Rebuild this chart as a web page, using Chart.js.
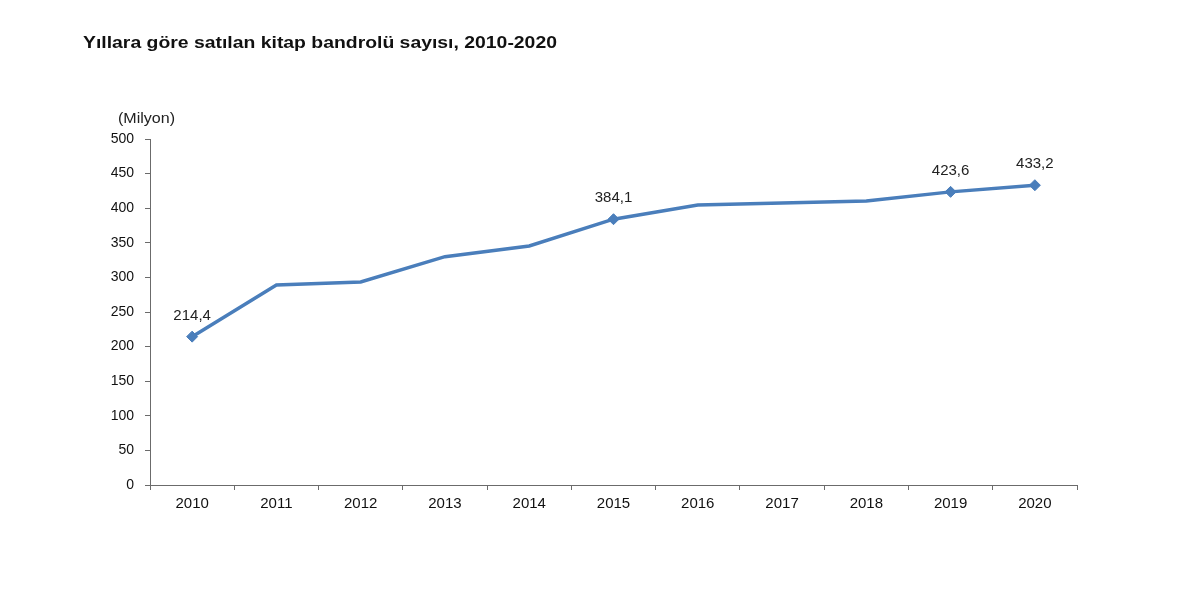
<!DOCTYPE html>
<html>
<head>
<meta charset="utf-8">
<script src="https://cdn.jsdelivr.net/npm/chart.js@4/dist/chart.umd.min.js"></script>
<style>
  body { margin: 0; background: #fff; }
  #wrap { position: relative; width: 1200px; height: 596px; }
  #title { position: absolute; left: 83px; top: 33px; font: bold 17px "Liberation Sans", Arial, sans-serif; color: #111; white-space: nowrap; transform: scaleX(1.14); transform-origin: left center; }
  #unit { position: absolute; left: 118px; top: 109px; font: 15px "Liberation Sans", Arial, sans-serif; color: #222; transform: scaleX(1.07); transform-origin: left center; }
  canvas { position: absolute; left: 0; top: 0; }
</style>
</head>
<body>
<div id="wrap">
  <canvas id="chart-canvas" width="1200" height="596"></canvas>
  <div id="title">Yıllara göre satılan kitap bandrolü sayısı, 2010-2020</div>
  <div id="unit">(Milyon)</div>
</div>
<script>
// values (million)
const years = ["2010", "2011", "2012", "2013", "2014", "2015", "2016", "2017", "2018", "2019", "2020"];
const bandrol = [214.4, 289, 293.5, 330, 345.5, 384.1, 404.5, 407.5, 410.5, 423.6, 433.2];
const labelled = [true, false, false, false, false, true, false, false, false, true, true];
const yTicks = [0, 50, 100, 150, 200, 250, 300, 350, 400, 450, 500];

const lineBlue = "#4a7ebb";
const axisGrey = "#6b6b6b";

// draws "214,4" style labels above the marked points
const pointLabels = {
  id: "pointLabels",
  afterDatasetsDraw(chart) {
    const ctx = chart.ctx;
    const meta = chart.getDatasetMeta(0);
    ctx.save();
    ctx.font = '15px "Liberation Sans", Arial, sans-serif';
    ctx.fillStyle = "#222";
    ctx.textAlign = "center";
    ctx.textBaseline = "middle";
    meta.data.forEach((pt, i) => {
      if (!labelled[i]) return;
      ctx.fillText(bandrol[i].toFixed(1).replace(".", ","), pt.x, pt.y - 21);
    });
    ctx.restore();
  }
};

document.addEventListener("DOMContentLoaded", function () {
  const ctx = document.getElementById("chart-canvas").getContext("2d");

  new Chart(ctx, {
    type: "line",
    data: {
      labels: years,
      datasets: [{
        data: bandrol,
        borderColor: lineBlue,
        backgroundColor: lineBlue,
        borderWidth: 3.5,
        tension: 0,
        pointStyle: "rectRot",
        pointRadius: labelled.map(v => v ? 5.5 : 0),
        pointBackgroundColor: lineBlue,
        pointBorderColor: lineBlue,
        pointBorderWidth: 1
      }]
    },
    plugins: [pointLabels],
    options: {
      responsive: false,
      devicePixelRatio: 1,
      animation: false,
      layout: { padding: { left: 0, top: 139, right: 123, bottom: 0 } },
      plugins: {
        legend: { display: false },
        tooltip: { enabled: false }
      },
      scales: {
        x: {
          offset: true,
          grid: { offset: true, drawOnChartArea: false, drawTicks: true, tickLength: 5, color: axisGrey },
          border: { display: true, color: axisGrey, width: 1 },
          ticks: { color: "#111", padding: 5, font: { family: "Liberation Sans", size: 15 }, maxRotation: 0 },
          afterFit: (scale) => { scale.height = 111; }
        },
        y: {
          min: 0,
          max: 500,
          afterBuildTicks: (scale) => { scale.ticks = yTicks.map(v => ({ value: v })); },
          grid: { drawOnChartArea: false, drawTicks: true, tickLength: 5, color: axisGrey },
          border: { display: true, color: axisGrey, width: 1 },
          ticks: { color: "#111", padding: 11, font: { family: "Liberation Sans", size: 14 } },
          afterFit: (scale) => { scale.width = 150; }
        }
      }
    }
  });
});
</script>
</body>
</html>
